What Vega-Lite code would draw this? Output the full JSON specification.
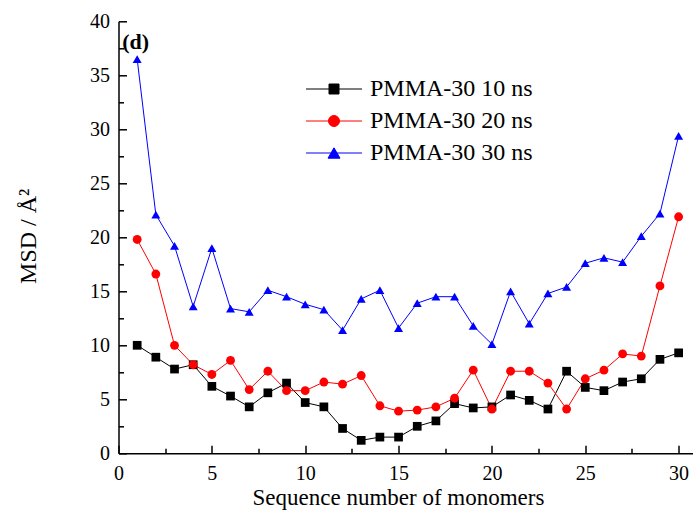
{
  "$schema": "https://vega.github.io/schema/vega-lite/v6.json",
  "width": 574.5,
  "height": 432,
  "padding": {"left": 118.5, "top": 21.3, "right": 0, "bottom": 61.7},
  "autosize": {"type": "none"},
  "background": "white",
  "config": {
    "view": {"stroke": null},
    "font": "Liberation Serif",
    "axis": {
      "domainColor": "black", "domainWidth": 1.5,
      "tickColor": "black", "tickWidth": 1.5,
      "labelFont": "Liberation Serif", "labelFontSize": 20, "labelColor": "black",
      "titleFont": "Liberation Serif", "titleFontSize": 23, "titleFontWeight": "normal", "titleColor": "black",
      "grid": false, "labelFlush": false, "labelOverlap": false
    }
  },
  "resolve": {"legend": {"color": "independent", "shape": "independent", "size": "independent"}},
  "data": {"values": [
    {"n":1,"series":"PMMA-30 10 ns","msd":10.0},{"n":2,"series":"PMMA-30 10 ns","msd":8.9},{"n":3,"series":"PMMA-30 10 ns","msd":7.8},{"n":4,"series":"PMMA-30 10 ns","msd":8.2},{"n":5,"series":"PMMA-30 10 ns","msd":6.2},{"n":6,"series":"PMMA-30 10 ns","msd":5.3},{"n":7,"series":"PMMA-30 10 ns","msd":4.3},{"n":8,"series":"PMMA-30 10 ns","msd":5.6},{"n":9,"series":"PMMA-30 10 ns","msd":6.5},{"n":10,"series":"PMMA-30 10 ns","msd":4.7},{"n":11,"series":"PMMA-30 10 ns","msd":4.3},{"n":12,"series":"PMMA-30 10 ns","msd":2.3},{"n":13,"series":"PMMA-30 10 ns","msd":1.2},{"n":14,"series":"PMMA-30 10 ns","msd":1.5},{"n":15,"series":"PMMA-30 10 ns","msd":1.5},{"n":16,"series":"PMMA-30 10 ns","msd":2.5},{"n":17,"series":"PMMA-30 10 ns","msd":3.0},{"n":18,"series":"PMMA-30 10 ns","msd":4.6},{"n":19,"series":"PMMA-30 10 ns","msd":4.2},{"n":20,"series":"PMMA-30 10 ns","msd":4.3},{"n":21,"series":"PMMA-30 10 ns","msd":5.4},{"n":22,"series":"PMMA-30 10 ns","msd":4.9},{"n":23,"series":"PMMA-30 10 ns","msd":4.1},{"n":24,"series":"PMMA-30 10 ns","msd":7.6},{"n":25,"series":"PMMA-30 10 ns","msd":6.1},{"n":26,"series":"PMMA-30 10 ns","msd":5.8},{"n":27,"series":"PMMA-30 10 ns","msd":6.6},{"n":28,"series":"PMMA-30 10 ns","msd":6.9},{"n":29,"series":"PMMA-30 10 ns","msd":8.7},{"n":30,"series":"PMMA-30 10 ns","msd":9.3},
    {"n":1,"series":"PMMA-30 20 ns","msd":19.8},{"n":2,"series":"PMMA-30 20 ns","msd":16.6},{"n":3,"series":"PMMA-30 20 ns","msd":10.0},{"n":4,"series":"PMMA-30 20 ns","msd":8.2},{"n":5,"series":"PMMA-30 20 ns","msd":7.3},{"n":6,"series":"PMMA-30 20 ns","msd":8.6},{"n":7,"series":"PMMA-30 20 ns","msd":5.9},{"n":8,"series":"PMMA-30 20 ns","msd":7.6},{"n":9,"series":"PMMA-30 20 ns","msd":5.8},{"n":10,"series":"PMMA-30 20 ns","msd":5.8},{"n":11,"series":"PMMA-30 20 ns","msd":6.6},{"n":12,"series":"PMMA-30 20 ns","msd":6.4},{"n":13,"series":"PMMA-30 20 ns","msd":7.2},{"n":14,"series":"PMMA-30 20 ns","msd":4.4},{"n":15,"series":"PMMA-30 20 ns","msd":3.9},{"n":16,"series":"PMMA-30 20 ns","msd":4.0},{"n":17,"series":"PMMA-30 20 ns","msd":4.3},{"n":18,"series":"PMMA-30 20 ns","msd":5.1},{"n":19,"series":"PMMA-30 20 ns","msd":7.7},{"n":20,"series":"PMMA-30 20 ns","msd":4.1},{"n":21,"series":"PMMA-30 20 ns","msd":7.6},{"n":22,"series":"PMMA-30 20 ns","msd":7.6},{"n":23,"series":"PMMA-30 20 ns","msd":6.5},{"n":24,"series":"PMMA-30 20 ns","msd":4.1},{"n":25,"series":"PMMA-30 20 ns","msd":6.9},{"n":26,"series":"PMMA-30 20 ns","msd":7.7},{"n":27,"series":"PMMA-30 20 ns","msd":9.2},{"n":28,"series":"PMMA-30 20 ns","msd":9.0},{"n":29,"series":"PMMA-30 20 ns","msd":15.5},{"n":30,"series":"PMMA-30 20 ns","msd":21.9},
    {"n":1,"series":"PMMA-30 30 ns","msd":36.5},{"n":2,"series":"PMMA-30 30 ns","msd":22.1},{"n":3,"series":"PMMA-30 30 ns","msd":19.2},{"n":4,"series":"PMMA-30 30 ns","msd":13.6},{"n":5,"series":"PMMA-30 30 ns","msd":19.0},{"n":6,"series":"PMMA-30 30 ns","msd":13.4},{"n":7,"series":"PMMA-30 30 ns","msd":13.1},{"n":8,"series":"PMMA-30 30 ns","msd":15.1},{"n":9,"series":"PMMA-30 30 ns","msd":14.5},{"n":10,"series":"PMMA-30 30 ns","msd":13.8},{"n":11,"series":"PMMA-30 30 ns","msd":13.3},{"n":12,"series":"PMMA-30 30 ns","msd":11.4},{"n":13,"series":"PMMA-30 30 ns","msd":14.3},{"n":14,"series":"PMMA-30 30 ns","msd":15.1},{"n":15,"series":"PMMA-30 30 ns","msd":11.6},{"n":16,"series":"PMMA-30 30 ns","msd":13.9},{"n":17,"series":"PMMA-30 30 ns","msd":14.5},{"n":18,"series":"PMMA-30 30 ns","msd":14.5},{"n":19,"series":"PMMA-30 30 ns","msd":11.8},{"n":20,"series":"PMMA-30 30 ns","msd":10.1},{"n":21,"series":"PMMA-30 30 ns","msd":15.0},{"n":22,"series":"PMMA-30 30 ns","msd":12.0},{"n":23,"series":"PMMA-30 30 ns","msd":14.8},{"n":24,"series":"PMMA-30 30 ns","msd":15.4},{"n":25,"series":"PMMA-30 30 ns","msd":17.6},{"n":26,"series":"PMMA-30 30 ns","msd":18.1},{"n":27,"series":"PMMA-30 30 ns","msd":17.7},{"n":28,"series":"PMMA-30 30 ns","msd":20.1},{"n":29,"series":"PMMA-30 30 ns","msd":22.2},{"n":30,"series":"PMMA-30 30 ns","msd":29.4}
  ]},
  "encoding": {
    "x": {"field": "n", "type": "quantitative",
      "scale": {"domain": [0, 30.77], "nice": false, "zero": false},
      "axis": {"title": "Sequence number of monomers", "values": [0,2.5,5,7.5,10,12.5,15,17.5,20,22.5,25,27.5,30],
        "labelExpr": "datum.value % 5 === 0 ? datum.label : ''",
        "tickSize": {"condition": {"test": "datum.value % 5 === 0", "value": -8}, "value": -5},
        "labelPadding": 18, "titleX": 279.5, "titleY": 43.7, "titleBaseline": "middle"}},
    "y": {"field": "msd", "type": "quantitative",
      "scale": {"domain": [0, 40], "nice": false},
      "axis": {"title": "MSD / Å²", "values": [0,2.5,5,7.5,10,12.5,15,17.5,20,22.5,25,27.5,30,32.5,35,37.5,40],
        "labelExpr": "datum.value % 5 === 0 ? datum.label : ''",
        "tickSize": {"condition": {"test": "datum.value % 5 === 0", "value": -8}, "value": -5},
        "labelPadding": 17, "titleX": -90, "titleY": 214.5, "titleBaseline": "middle", "titleAngle": -90, "titleFontSize": 24}}
  },
  "layer": [
    {"mark": {"type": "line", "strokeWidth": 1},
     "encoding": {
      "color": {"field": "series", "type": "nominal",
      "scale": {"domain": ["PMMA-30 10 ns","PMMA-30 20 ns","PMMA-30 30 ns"], "range": ["black","red","blue"]},
      "legend": {"orient": "none", "legendX": 203.5, "legendY": 55.7, "title": null,
          "symbolSize": 100, "labelFont": "Liberation Serif", "labelFontSize": 24, "labelColor": "black", "labelLimit": 0,
          "labelOffset": 24, "rowPadding": 8, "symbolStrokeWidth": 1,
          "encode": {"symbols": {"update": {
            "shape": {"signal": "datum.value === 'PMMA-30 10 ns' ? 'M-5.6,0H5.6M-1,-1H1V1H-1Z' : datum.value === 'PMMA-30 20 ns' ? 'M-5.6,0H5.6M1.1,0A1.1,1.1 0 1,1 -1.1,0A1.1,1.1 0 1,1 1.1,0Z' : 'M-5.6,0H5.6M0,-1.04L1.2,1.04H-1.2Z'"},
            "stroke": {"signal": "scale('color', datum.value)"},
            "fill": {"signal": "scale('color', datum.value)"},
            "strokeWidth": {"value": 1},
            "opacity": {"value": 1}
          }}}}}}},
    {"mark": {"type": "point", "filled": true, "opacity": 1, "strokeWidth": 0},
     "encoding": {
       "color": {"field": "series", "type": "nominal",
        "scale": {"domain": ["PMMA-30 10 ns","PMMA-30 20 ns","PMMA-30 30 ns"], "range": ["black","red","blue"]},
        "legend": null},
       "shape": {"field": "series", "type": "nominal",
        "scale": {"domain": ["PMMA-30 10 ns","PMMA-30 20 ns","PMMA-30 30 ns"], "range": ["square","circle","triangle-up"]},
        "legend": null},
       "size": {"field": "series", "type": "nominal",
        "scale": {"domain": ["PMMA-30 10 ns","PMMA-30 20 ns","PMMA-30 30 ns"], "range": [76, 80, 144]},
        "legend": null}
     }},
    {"data": {"values": [{"v": 40}]},
     "mark": {"type": "rule", "color": "black", "strokeWidth": 1.5},
     "encoding": {"y": {"field": "v", "type": "quantitative"}}},
    {"data": {"values": [{"t": "(d)", "px": 0.2, "py": 38.1}]},
     "mark": {"type": "text", "font": "Liberation Serif", "fontWeight": "bold", "fontSize": 22, "align": "left", "baseline": "middle", "color": "black"},
     "encoding": {"x": {"field": "px", "type": "quantitative"}, "y": {"field": "py", "type": "quantitative"}, "text": {"field": "t"}}}
  ]
}
